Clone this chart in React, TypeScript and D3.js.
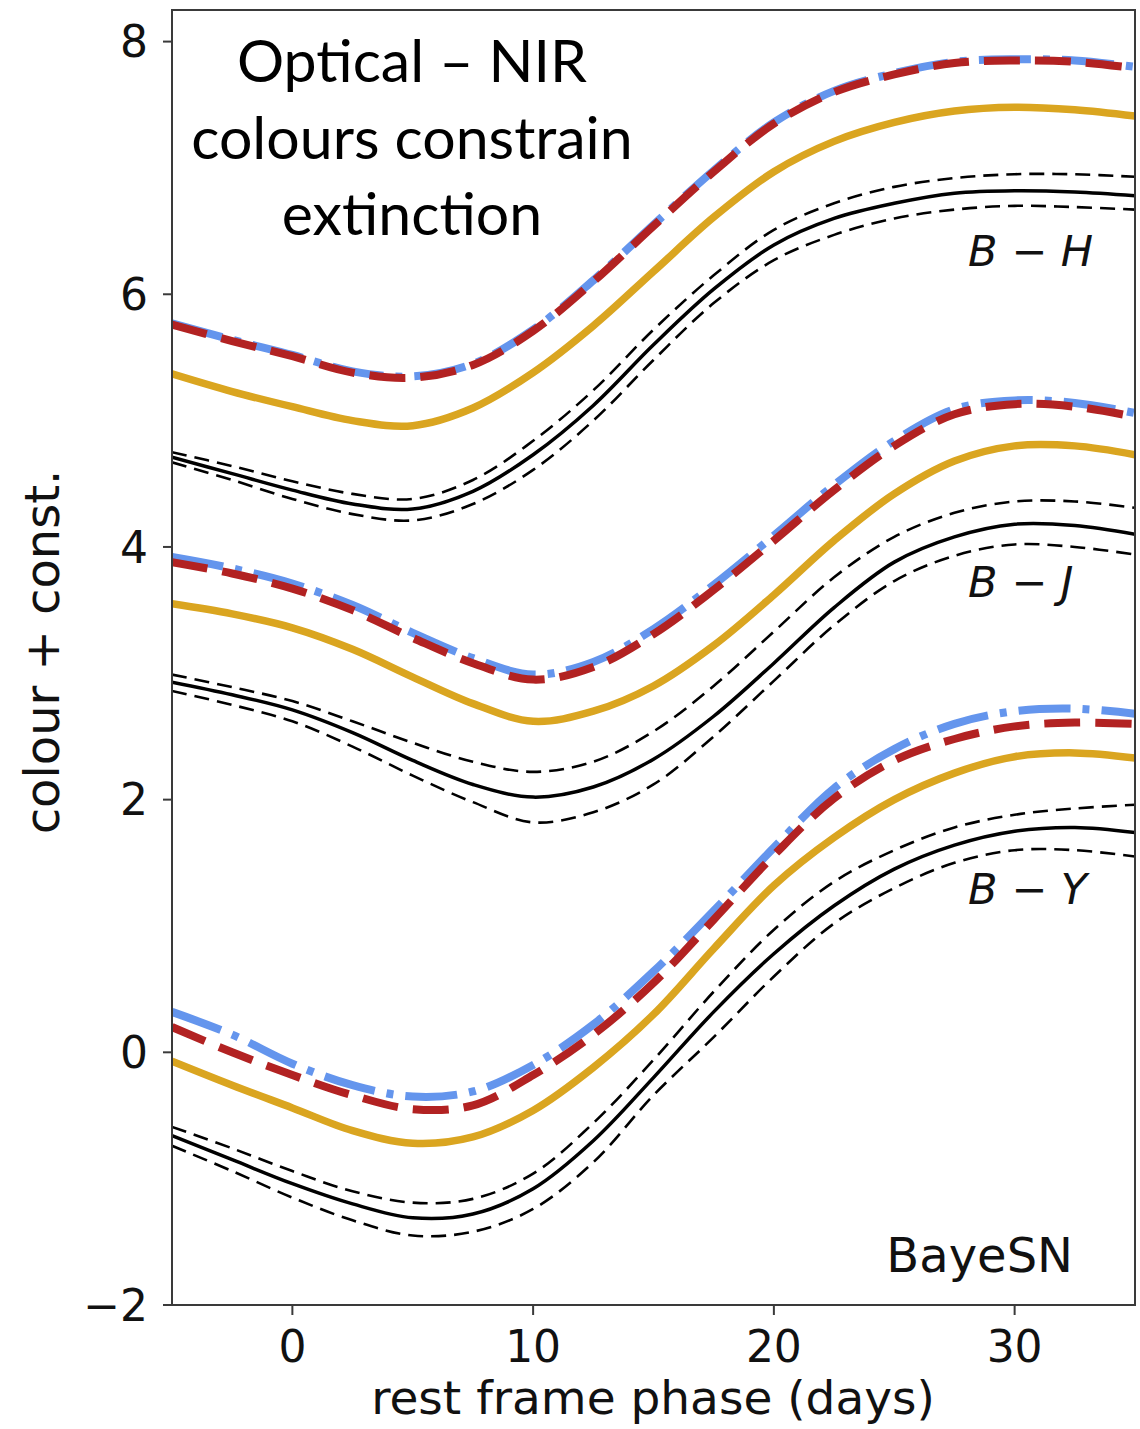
import React from "react";
import * as d3 from "d3";

// rest-frame phase grid (days)
const phases = [-5, -2.5, 0, 2.5, 5, 7.5, 10, 12.5, 15, 17.5, 20, 22.5, 25, 27.5, 30, 32.5, 35];

// B - H
const bhRed = [5.76, 5.63, 5.51, 5.38, 5.34, 5.44, 5.71, 6.10, 6.54, 6.97, 7.35, 7.60, 7.74, 7.83, 7.85, 7.84, 7.79];
const bhBlue = [5.77, 5.64, 5.52, 5.39, 5.35, 5.45, 5.72, 6.11, 6.55, 6.98, 7.36, 7.61, 7.75, 7.84, 7.86, 7.85, 7.80];
const bhGold = [5.37, 5.23, 5.11, 5.0, 4.96, 5.10, 5.38, 5.75, 6.18, 6.61, 6.97, 7.21, 7.36, 7.45, 7.48, 7.46, 7.41];
const bhMean = [4.71, 4.58, 4.45, 4.34, 4.30, 4.44, 4.73, 5.12, 5.60, 6.04, 6.39, 6.60, 6.72, 6.80, 6.82, 6.81, 6.78];
const bhUpper = [4.75, 4.64, 4.52, 4.42, 4.38, 4.53, 4.84, 5.24, 5.72, 6.15, 6.51, 6.72, 6.85, 6.92, 6.95, 6.95, 6.93];
const bhLower = [4.67, 4.53, 4.38, 4.26, 4.21, 4.34, 4.61, 5.00, 5.48, 5.93, 6.27, 6.47, 6.60, 6.67, 6.70, 6.69, 6.67];

// B - J
const bjRed = [3.88, 3.79, 3.67, 3.50, 3.28, 3.08, 2.95, 3.05, 3.31, 3.66, 4.05, 4.45, 4.80, 5.05, 5.13, 5.11, 5.03];
const bjBlue = [3.92, 3.83, 3.71, 3.54, 3.32, 3.12, 2.99, 3.09, 3.35, 3.70, 4.09, 4.49, 4.84, 5.09, 5.16, 5.14, 5.06];
const bjGold = [3.55, 3.47, 3.36, 3.19, 2.97, 2.76, 2.62, 2.70, 2.90, 3.22, 3.62, 4.05, 4.42, 4.68, 4.80, 4.80, 4.73];
const bjMean = [2.93, 2.83, 2.71, 2.53, 2.31, 2.12, 2.02, 2.10, 2.32, 2.66, 3.08, 3.52, 3.88, 4.08, 4.18, 4.17, 4.10];
const bjUpper = [2.99, 2.89, 2.78, 2.62, 2.45, 2.30, 2.22, 2.30, 2.54, 2.90, 3.33, 3.76, 4.08, 4.27, 4.36, 4.36, 4.31];
const bjLower = [2.86, 2.75, 2.62, 2.42, 2.19, 1.98, 1.82, 1.90, 2.12, 2.50, 2.94, 3.38, 3.73, 3.93, 4.02, 4.00, 3.94];

// B - Y
const byRed = [0.20, 0.0, -0.18, -0.34, -0.45, -0.42, -0.18, 0.14, 0.55, 1.05, 1.56, 2.01, 2.31, 2.48, 2.58, 2.61, 2.60];
const byBlue = [0.32, 0.14, -0.09, -0.26, -0.35, -0.31, -0.10, 0.22, 0.64, 1.12, 1.62, 2.09, 2.40, 2.60, 2.70, 2.72, 2.68];
const byGold = [-0.07, -0.26, -0.44, -0.62, -0.72, -0.67, -0.46, -0.12, 0.30, 0.82, 1.32, 1.70, 2.0, 2.21, 2.34, 2.37, 2.33];
const byMean = [-0.66, -0.85, -1.04, -1.20, -1.31, -1.28, -1.08, -0.70, -0.20, 0.32, 0.78, 1.16, 1.45, 1.64, 1.75, 1.78, 1.74];
const byUpper = [-0.59, -0.76, -0.94, -1.10, -1.19, -1.16, -0.96, -0.56, -0.06, 0.48, 0.97, 1.35, 1.60, 1.78, 1.88, 1.93, 1.96];
const byLower = [-0.74, -0.94, -1.15, -1.33, -1.45, -1.42, -1.24, -0.87, -0.34, 0.12, 0.60, 1.02, 1.30, 1.50, 1.60, 1.60, 1.55];

const xTicks = [0, 10, 20, 30];
const yTicks = [-2, 0, 2, 4, 6, 8];
const colourLabels = [
  { name: "H", at: 6.22 },
  { name: "J", at: 3.6 },
  { name: "Y", at: 1.17 },
];
const titleLines = ["Optical \u2013 NIR", "colours constrain", "extinction"];

const width = 1140;
const height = 1429;
const margin = { top: 10, right: 5, bottom: 124, left: 172 };

const App = () => {
  const innerW = width - margin.left - margin.right;
  const innerH = height - margin.top - margin.bottom;

  const xScale = d3.scaleLinear().domain([-5, 35]).range([0, innerW]);
  const yScale = d3.scaleLinear().domain([-2, 8.25]).range([innerH, 0]);

  const line = d3
    .line<number>()
    .x((_, i) => xScale(phases[i]))
    .y((d) => yScale(d))
    .curve(d3.curveCatmullRom.alpha(0.5));

  const groups = [
    { red: bhRed, blue: bhBlue, gold: bhGold, mean: bhMean, up: bhUpper, lo: bhLower },
    { red: bjRed, blue: bjBlue, gold: bjGold, mean: bjMean, up: bjUpper, lo: bjLower },
    { red: byRed, blue: byBlue, gold: byGold, mean: byMean, up: byUpper, lo: byLower },
  ];

  const font = "'DejaVu Sans', sans-serif";

  return (
    <svg width={width} height={height} style={{ position: "absolute", left: 0, top: 0, background: "#fff" }}>
      <defs>
        <clipPath id="plot-clip">
          <rect x={0} y={0} width={innerW} height={innerH} />
        </clipPath>
      </defs>
      <g transform={`translate(${margin.left}, ${margin.top})`}>
        <g clipPath="url(#plot-clip)" fill="none">
          {groups.map((g, i) => (
            <g key={i}>
              <path d={line(g.up) || ""} stroke="#000" strokeWidth={2.6} strokeDasharray="15,8" />
              <path d={line(g.lo) || ""} stroke="#000" strokeWidth={2.6} strokeDasharray="15,8" />
              <path d={line(g.mean) || ""} stroke="#000" strokeWidth={3.5} />
              <path d={line(g.gold) || ""} stroke="#DAA520" strokeWidth={7.5} />
              <path d={line(g.blue) || ""} stroke="#6495ED" strokeWidth={8} strokeDasharray="52,12,7,12" />
              <path d={line(g.red) || ""} stroke="#B22222" strokeWidth={8} strokeDasharray="36,15" />
            </g>
          ))}
        </g>

        {/* frame */}
        <rect x={0} y={0} width={innerW} height={innerH} fill="none" stroke="#3a3a3a" strokeWidth={2} />

        {/* y axis */}
        {yTicks.map((t) => (
          <g key={t} transform={`translate(0, ${yScale(t)})`}>
            <line x1={-9} x2={0} stroke="#3a3a3a" strokeWidth={2} />
            <text x={-24} dy="0.36em" textAnchor="end" fontFamily={font} fontSize={44} fill="#111">
              {t < 0 ? `\u2212${-t}` : t}
            </text>
          </g>
        ))}

        {/* x axis */}
        {xTicks.map((t) => (
          <g key={t} transform={`translate(${xScale(t)}, ${innerH})`}>
            <line y1={0} y2={10} stroke="#3a3a3a" strokeWidth={2} />
            <text y={57} textAnchor="middle" fontFamily={font} fontSize={44} fill="#111">
              {t}
            </text>
          </g>
        ))}

        {/* colour labels */}
        {colourLabels.map((c) => (
          <text key={c.name} x={796} y={yScale(c.at)} textAnchor="start" fontFamily={font} fontStyle="italic" fontSize={43} fill="#111">
            {`B \u2212 ${c.name}`}
          </text>
        ))}

        <text x={innerW - 62} y={innerH - 33} textAnchor="end" fontFamily={font} fontSize={48} fill="#111">
          BayeSN
        </text>

        {/* annotation */}
        {titleLines.map((l, i) => (
          <text key={i} x={240} y={72 + i * 76.5} textAnchor="middle" fontFamily="Lato, sans-serif" fontSize={59} fill="#000">
            {l}
          </text>
        ))}
      </g>

      <text x={653} y={1414} textAnchor="middle" fontFamily={font} fontSize={47} fill="#111">
        rest frame phase (days)
      </text>
      <text transform="translate(59, 652) rotate(-90)" textAnchor="middle" fontFamily={font} fontSize={48} fill="#111">
        colour + const.
      </text>
    </svg>
  );
};

export default App;
